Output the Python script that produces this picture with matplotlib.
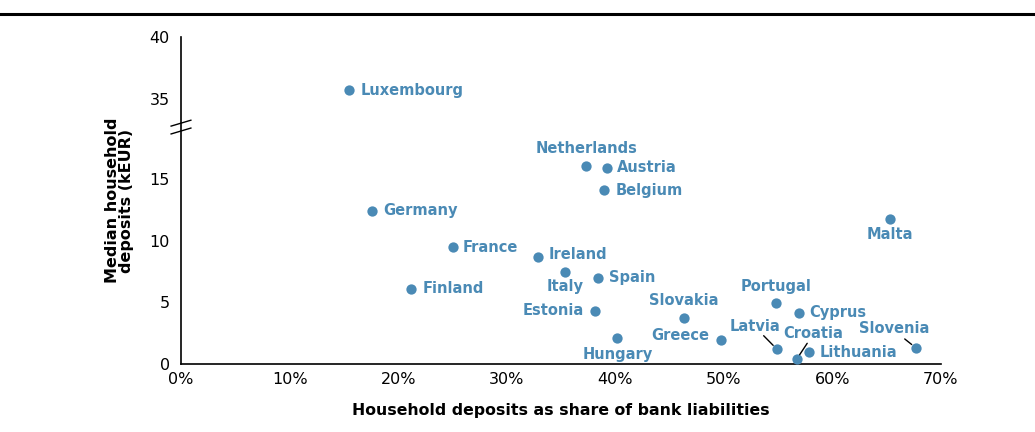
import matplotlib
matplotlib.use("Agg")
import matplotlib.pyplot as plt
import numpy as np
from matplotlib.lines import Line2D

# household deposits as share of bank liabilities (fraction) vs median deposits (kEUR)
countries = ["Luxembourg", "Netherlands", "Austria", "Belgium", "Germany", "Malta",
             "France", "Ireland", "Italy", "Spain", "Finland", "Estonia", "Slovakia",
             "Portugal", "Cyprus", "Hungary", "Greece", "Latvia", "Croatia",
             "Lithuania", "Slovenia"]
share = [0.155, 0.373, 0.392, 0.390, 0.176, 0.653,
         0.2505, 0.329, 0.354, 0.384, 0.212, 0.381, 0.463,
         0.548, 0.569, 0.402, 0.497, 0.549, 0.567,
         0.578, 0.677]
median_dep = [35.7, 16.05, 15.9, 14.1, 12.4, 11.75,
              9.45, 8.67, 7.46, 7.0, 6.08, 4.3, 3.73,
              4.97, 4.16, 2.1, 1.97, 1.19, 0.38,
              0.95, 1.30]
yticks = [0, 5, 10, 15, 35, 40]
xticks = [0, 0.1, 0.2, 0.3, 0.4, 0.5, 0.6, 0.7]

# label placement in pixels relative to the dot: (dx, dy, ha) ; dy positive = down
label_pos = {
    "Luxembourg": (11, 0, "left"), "Germany": (11, 0, "left"), "France": (10, 0, "left"),
    "Ireland": (10, -3, "left"), "Spain": (11, 0, "left"), "Finland": (11, 0, "left"),
    "Austria": (10, 0, "left"), "Belgium": (11, 0, "left"), "Cyprus": (10, 0, "left"),
    "Lithuania": (11, 0, "left"),
    "Netherlands": (1, -17, "center"), "Italy": (0, 15, "center"),
    "Slovakia": (0, -17, "center"), "Hungary": (0, 16, "center"),
    "Portugal": (0, -16, "center"), "Malta": (0, 15, "center"),
    "Estonia": (-11, 0, "right"), "Greece": (-11, -4, "right"),
    "Latvia": (-22, -23, "center"), "Croatia": (17, -26, "center"),
    "Slovenia": (-22, -19, "center"),
}
leaders = {"Latvia": (-13.4, -13.6), "Croatia": (10.6, -16), "Slovenia": (-11.3, -9)}

BLUE = "#4a8ab5"
BREAK_LO, BREAK_HI = 19.2, 32.7
GAP = BREAK_HI - BREAK_LO


def fwd(y):
    y = np.asarray(y, dtype=float)
    return np.where(y <= BREAK_LO, y, np.where(y >= BREAK_HI, y - GAP, BREAK_LO))


def inv(d):
    d = np.asarray(d, dtype=float)
    return np.where(d <= BREAK_LO, d, d + GAP)


plt.rcParams["font.family"] = ["DejaVu Sans"]
PX = 0.72  # points per pixel at dpi 100

fig = plt.figure(figsize=(10.35, 4.32), dpi=100)
ax = fig.add_axes([181 / 1035, 1 - 364 / 432, 760 / 1035, 327 / 432])
ax.set_yscale("function", functions=(fwd, inv))
ax.set_xlim(0, 0.7)
ax.set_ylim(0, 40)

ax.scatter(share, median_dep, s=55, color=BLUE, zorder=3, linewidths=0, clip_on=False)

for name, x, y in zip(countries, share, median_dep):
    dx, dy, ha = label_pos[name]
    ax.annotate(name, (x, y), xytext=(dx * PX, -dy * PX), textcoords="offset points",
                ha=ha, va="center", color=BLUE, fontsize=10.5, fontweight="bold")
    if name in leaders:
        sx, sy = leaders[name]
        ax.annotate("", (x, y), xytext=(sx * PX, -sy * PX), textcoords="offset points",
                    arrowprops=dict(arrowstyle="-", color="black", lw=1, shrinkA=0, shrinkB=4))

ax.set_xticks(xticks)
ax.set_xticklabels([f"{int(round(v * 100))}%" for v in xticks])
ax.set_yticks(yticks)
ax.set_yticklabels([str(v) for v in yticks])
ax.tick_params(length=0, labelsize=11.5, pad=6)
ax.tick_params(axis="y", pad=8)
for side in ["top", "right"]:
    ax.spines[side].set_visible(False)
for side in ["left", "bottom"]:
    ax.spines[side].set_linewidth(1.2)

ax.set_xlabel("Household deposits as share of bank liabilities", fontsize=11.3,
              fontweight="bold", labelpad=11)
ax.set_ylabel("Median household\ndeposits (kEUR)", fontsize=11.5, fontweight="bold",
              labelpad=11, linespacing=0.95)

# axis break marks
yb = BREAK_LO / (40 - GAP)
for off in (-0.012, 0.012):
    ax.plot([-0.013, 0.013], [yb + off - 0.009, yb + off + 0.009], transform=ax.transAxes,
            color="black", lw=1, clip_on=False)

fig.add_artist(Line2D([0, 1], [1 - 14 / 432] * 2, transform=fig.transFigure,
                      color="black", lw=2.2))

fig.savefig("out.png", dpi=100)
